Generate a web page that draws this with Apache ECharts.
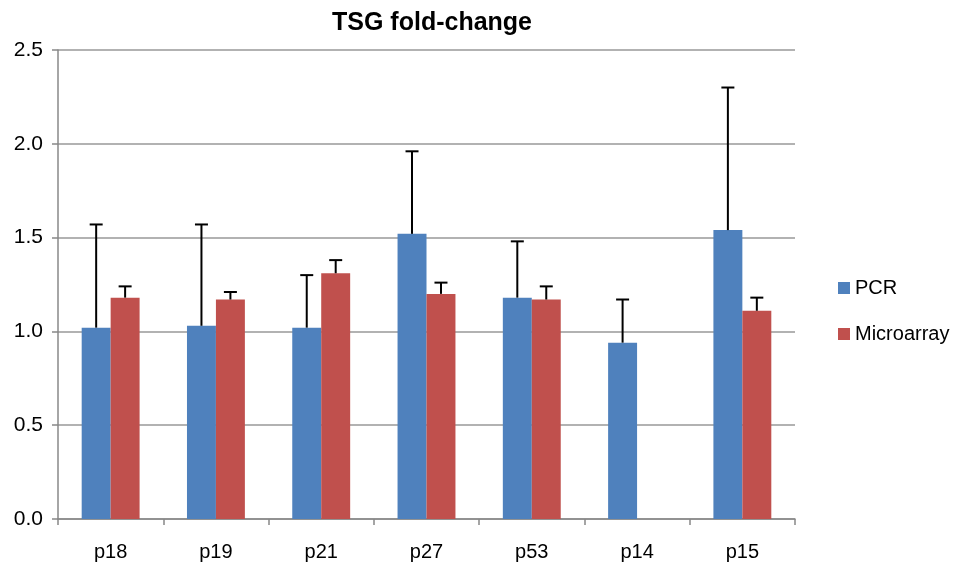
<!DOCTYPE html>
<html>
<head>
<meta charset="utf-8">
<script src="https://cdn.jsdelivr.net/npm/echarts@6/dist/echarts.min.js"></script>
<style>
html, body { margin: 0; padding: 0; background: #fff; }
#chart { width: 956px; height: 563px; }
</style>
</head>
<body>
<div id="chart"></div>
<script>
var categories = ['p18', 'p19', 'p21', 'p27', 'p53', 'p14', 'p15'];
var pcrValues = [1.02, 1.03, 1.02, 1.52, 1.18, 0.94, 1.54];
var pcrErrTop = [1.57, 1.57, 1.30, 1.96, 1.48, 1.17, 2.30];
var microValues = [1.18, 1.17, 1.31, 1.20, 1.17, null, 1.11];
var microErrTop = [1.24, 1.21, 1.38, 1.26, 1.24, null, 1.18];

// bar geometry (fractions of category width)
var gapFrac = 0.45;
var barFrac = (1 - gapFrac) / 2;

function errData(vals, tops) {
	var out = [];
	for (var i = 0; i < vals.length; i++) {
		if (vals[i] == null) continue;
		out.push([i, vals[i], tops[i]]);
	}
	return out;
}

function errSeries(name, vals, tops, side) {
	return {
		name: name + ' err',
		type: 'custom',
		silent: true,
		z: 5,
		data: errData(vals, tops),
		encode: { x: 0, y: [1, 2] },
		renderItem: function(params, api) {
			var idx = api.value(0);
			var lo = api.coord([idx, api.value(1)]);
			var hi = api.coord([idx, api.value(2)]);
			var bw = api.size([1, 0])[0];
			var cx = lo[0] + side * barFrac / 2 * bw;
			var cap = 6.5;
			var style = { stroke: '#000', lineWidth: 2 };
			return {
				type: 'group',
				children: [
					{ type: 'line', shape: { x1: cx, y1: lo[1], x2: cx, y2: hi[1] }, style: style },
					{ type: 'line', shape: { x1: cx - cap, y1: hi[1], x2: cx + cap, y2: hi[1] }, style: style }
				]
			};
		}
	};
}

var chart = echarts.init(document.getElementById('chart'));
var option = {
	animation: false,
	textStyle: { fontFamily: 'Liberation Sans, Arial, sans-serif' },
	title: {
		text: 'TSG fold-change',
		left: 427,
		top: 6,
		textAlign: 'center',
		textStyle: { fontSize: 25, fontWeight: 'bold', color: '#000' }
	},
	legend: {
		orient: 'vertical',
		left: 833,
		top: 273,
		icon: 'rect',
		itemWidth: 12,
		itemHeight: 12,
		itemGap: 26,
		textStyle: { fontSize: 20, color: '#000' },
		data: ['PCR', 'Microarray']
	},
	grid: { left: 58, right: 161, top: 50, bottom: 44 },
	xAxis: {
		type: 'category',
		data: categories,
		boundaryGap: true,
		axisLine: { lineStyle: { color: '#888', width: 1.5 } },
		axisTick: { show: true, length: 6, lineStyle: { color: '#888', width: 1.5 } },
		axisLabel: { fontSize: 20, color: '#000', margin: 23 }
	},
	yAxis: {
		type: 'value',
		min: 0,
		max: 2.5,
		interval: 0.5,
		axisLine: { show: true, lineStyle: { color: '#888', width: 1.5 } },
		axisTick: { show: true, length: 6, lineStyle: { color: '#888', width: 1.5 } },
		axisLabel: {
			fontSize: 21,
			color: '#000',
			margin: 15,
			formatter: function(v) { return v.toFixed(1); }
		},
		splitLine: { lineStyle: { color: '#999', width: 1.5 } }
	},
	series: [
		{
			name: 'PCR',
			type: 'bar',
			barGap: 0,
			barCategoryGap: '45%',
			itemStyle: { color: '#4f81bd' },
			data: pcrValues
		},
		{
			name: 'Microarray',
			type: 'bar',
			barGap: 0,
			barCategoryGap: '45%',
			itemStyle: { color: '#c0504d' },
			data: microValues.map(function(v) { return v == null ? '-' : v; })
		},
		errSeries('PCR', pcrValues, pcrErrTop, -1),
		errSeries('Microarray', microValues, microErrTop, 1)
	]
};
chart.setOption(option);
window.addEventListener('resize', function() {
	chart.resize();
});
</script>
</body>
</html>
